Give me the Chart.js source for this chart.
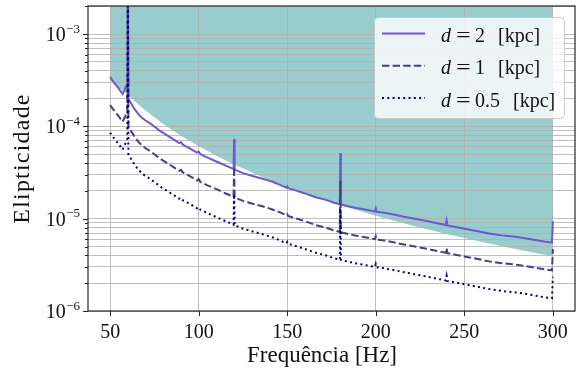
<!DOCTYPE html>
<html><head><meta charset="utf-8">
<script src="https://cdn.jsdelivr.net/npm/chart.js@4.4.1/dist/chart.umd.min.js"></script>
<style>html,body{margin:0;padding:0;background:#fff;overflow:hidden}#wrap{width:580px;height:370px}</style>
</head><body><div id="wrap"><canvas id="c" width="580" height="370"></canvas></div>
<script>
// ---- data ----
const freqHz = [50,51,53,55,57,58,59,59.7,60,60.3,61,62,64,66,68,70,72,75,78,82,86,89,90,91,95,99,100,101,105,110,115,119.7,120,120.3,125,130,135,138,142,146,149.5,150,150.5,156,160,166,172,176,179.7,180,180.3,185,189,194,199.5,200,200.5,205,210,216,222,228,234,239.5,240,240.5,245,250,257,264,271,279,285,290,295,299.5,300];
const ellipD2 = [3.42e-4,3.2e-4,2.85e-4,2.55e-4,2.25e-4,2.45e-4,2.72e-4,2.9e-4,1.2e-2,2.0e-4,1.88e-4,1.76e-4,1.52e-4,1.36e-4,1.24e-4,1.16e-4,1.10e-4,1.0e-4,9.0e-5,8.05e-5,7.2e-5,6.6e-5,6.75e-5,6.35e-5,5.8e-5,5.2e-5,5.35e-5,5.0e-5,4.6e-5,4.17e-5,3.78e-5,3.45e-5,7.3e-5,3.4e-5,3.12e-5,2.92e-5,2.75e-5,2.65e-5,2.5e-5,2.33e-5,2.17e-5,2.24e-5,2.14e-5,1.99e-5,1.88e-5,1.71e-5,1.6e-5,1.5e-5,1.44e-5,5.15e-5,1.43e-5,1.36e-5,1.31e-5,1.26e-5,1.2e-5,1.29e-5,1.19e-5,1.16e-5,1.11e-5,1.05e-5,1.0e-5,9.5e-6,9.0e-6,8.55e-6,9.6e-6,8.45e-6,8.15e-6,7.8e-6,7.35e-6,6.9e-6,6.6e-6,6.36e-6,6.1e-6,5.87e-6,5.65e-6,5.5e-6,9.4e-6];
const ellipD1 = [1.71e-4,1.6e-4,1.425e-4,1.275e-4,1.125e-4,1.225e-4,1.36e-4,1.45e-4,6e-3,1.0e-4,9.4e-5,8.8e-5,7.6e-5,6.8e-5,6.2e-5,5.8e-5,5.5e-5,5.0e-5,4.5e-5,4.03e-5,3.6e-5,3.3e-5,3.38e-5,3.18e-5,2.9e-5,2.6e-5,2.68e-5,2.5e-5,2.3e-5,2.09e-5,1.89e-5,1.73e-5,3.65e-5,1.7e-5,1.56e-5,1.46e-5,1.38e-5,1.33e-5,1.25e-5,1.17e-5,1.09e-5,1.12e-5,1.07e-5,9.95e-6,9.4e-6,8.55e-6,8.0e-6,7.5e-6,7.2e-6,2.58e-5,7.15e-6,6.8e-6,6.55e-6,6.3e-6,6.0e-6,6.45e-6,5.95e-6,5.8e-6,5.55e-6,5.25e-6,5.0e-6,4.75e-6,4.5e-6,4.28e-6,4.8e-6,4.23e-6,4.08e-6,3.9e-6,3.68e-6,3.45e-6,3.3e-6,3.18e-6,3.05e-6,2.94e-6,2.83e-6,2.75e-6,4.7e-6];
const ellipD05 = [8.55e-5,8.0e-5,7.1e-5,6.4e-5,5.6e-5,6.1e-5,6.8e-5,7.25e-5,3e-3,5.0e-5,4.7e-5,4.4e-5,3.8e-5,3.4e-5,3.1e-5,2.9e-5,2.75e-5,2.5e-5,2.25e-5,2.01e-5,1.8e-5,1.65e-5,1.69e-5,1.59e-5,1.45e-5,1.3e-5,1.34e-5,1.25e-5,1.15e-5,1.04e-5,9.45e-6,8.6e-6,1.83e-5,8.5e-6,7.8e-6,7.3e-6,6.9e-6,6.6e-6,6.25e-6,5.8e-6,5.4e-6,5.6e-6,5.35e-6,4.98e-6,4.7e-6,4.28e-6,4.0e-6,3.75e-6,3.6e-6,1.29e-5,3.58e-6,3.4e-6,3.28e-6,3.15e-6,3.0e-6,3.23e-6,2.98e-6,2.9e-6,2.78e-6,2.63e-6,2.5e-6,2.38e-6,2.25e-6,2.14e-6,2.4e-6,2.11e-6,2.04e-6,1.95e-6,1.84e-6,1.73e-6,1.65e-6,1.59e-6,1.53e-6,1.47e-6,1.41e-6,1.38e-6,2.35e-6];
const boundFreqHz = [50,55,60,65,70,75,80,85,90,95,100,110,120,130,140,150,160,170,180,190,200,210,220,230,240,250,260,270,280,290,300];
const boundEllip = [3.45e-4,2.62e-4,2.19e-4,1.79e-4,1.49e-4,1.26e-4,1.066e-4,9.17e-5,7.94e-5,6.94e-5,6.10e-5,4.81e-5,3.87e-5,3.17e-5,2.63e-5,2.21e-5,1.88e-5,1.62e-5,1.40e-5,1.23e-5,1.08e-5,9.54e-6,8.50e-6,7.60e-6,6.83e-6,6.17e-6,5.60e-6,5.09e-6,4.65e-6,4.26e-6,3.91e-6];
const seriesLabels = ['d = 2 [kpc]','d = 1 [kpc]','d = 0.5 [kpc]'];
const xTickValues = [50,100,150,200,250,300];
const yMajorValues = [1e-6,1e-5,1e-4,1e-3];
const yMajorExp = ['\u22126','\u22125','\u22124','\u22123'];
const xTitle = 'Frequência [Hz]';
const yTitle = 'Elipticidade';

const SERIF = '"Liberation Serif", "DejaVu Serif", serif';
const colors = ['rgb(106,90,205)','rgb(72,61,139)','rgb(0,0,128)'];
const dashes = [[],[7.4,3.2],[2,3.3]];
const pts = (xs, ys) => xs.map((x,i)=>({x:x, y:ys[i]}));

const overlay = {
  id:'overlay',
  afterDraw(chart){
    const ctx = chart.ctx, a = chart.chartArea;
    const xs = chart.scales.x, ys = chart.scales.y;
    ctx.save();
    // frame
    ctx.strokeStyle = '#262626'; ctx.lineWidth = 1.2; ctx.setLineDash([]);
    ctx.strokeRect(a.left, a.top, a.right-a.left, a.bottom-a.top);
    // ticks
    ctx.lineWidth = 1;
    ctx.beginPath();
    xTickValues.forEach(v=>{const p=Math.round(xs.getPixelForValue(v))+0.5; ctx.moveTo(p,a.bottom); ctx.lineTo(p,a.bottom+5);});
    ys.ticks.forEach(t=>{
      const p=Math.round(ys.getPixelForValue(t.value))+0.5;
      if (p < a.top-0.5 || p > a.bottom+1) return;
      const major = yMajorValues.some(m=>Math.abs(Math.log10(m)-Math.log10(t.value))<1e-6);
      ctx.moveTo(a.left-(major?5:3),p); ctx.lineTo(a.left,p);
    });
    ctx.stroke();
    // y tick labels
    ctx.fillStyle = '#111';
    yMajorValues.forEach((v,i)=>{
      const p = ys.getPixelForValue(v);
      ctx.font = '13px '+SERIF; ctx.textAlign='right'; ctx.textBaseline='alphabetic';
      ctx.fillText(yMajorExp[i], 80, p-1.5);
      const ew = ctx.measureText(yMajorExp[i]).width;
      ctx.font = '20px '+SERIF;
      ctx.fillText('10', 80-ew-0.5, p+7);
    });
    // axis titles
    ctx.font = '23px '+SERIF; ctx.textAlign='center'; ctx.textBaseline='alphabetic';
    ctx.fillText(xTitle, 322, 362);
    ctx.save();
    ctx.translate(29, (a.top+a.bottom)/2); ctx.rotate(-Math.PI/2);
    try { ctx.letterSpacing = '1.2px'; } catch(e) {}
    ctx.font = '24px '+SERIF;
    ctx.fillText(yTitle, 0, 0);
    ctx.restore();
    // legend
    const lx=374.5, ly=17.5, lw=190, lh=101;
    ctx.beginPath();
    if (ctx.roundRect) ctx.roundRect(lx,ly,lw,lh,4); else ctx.rect(lx,ly,lw,lh);
    ctx.fillStyle='rgba(255,255,255,0.8)'; ctx.fill();
    ctx.strokeStyle='#cccccc'; ctx.lineWidth=1; ctx.stroke();
    chart.data.datasets.slice(0,3).forEach((ds,i)=>{
      const yy = 33.5 + i*32.3;
      ctx.beginPath(); ctx.setLineDash(dashes[i]); ctx.strokeStyle=colors[i]; ctx.lineWidth=2;
      ctx.moveTo(382,yy); ctx.lineTo(425,yy); ctx.stroke(); ctx.setLineDash([]);
      const parts = ds.label.split(' '); // d, =, num, [kpc]
      ctx.fillStyle='#111'; ctx.textAlign='left'; ctx.textBaseline='alphabetic';
      const by = yy+8.5;
      ctx.font = 'italic 20px '+SERIF; ctx.fillText(parts[0], 441, by);
      ctx.font = '20px '+SERIF;
      ctx.save(); ctx.translate(456, by); ctx.scale(1.3,1); ctx.fillText(parts[1], 0, 0); ctx.restore();
      ctx.fillText(parts[2], 475, by);
      const nw = ctx.measureText(parts[2]).width;
      ctx.fillText(parts[3], 475+nw+13, by);
    });
    ctx.restore();
  }
};

const lineDs = (label, ys, i) => ({
  label: label, data: pts(freqHz, ys), borderColor: colors[i], borderWidth: 2,
  borderDash: dashes[i], pointRadius: 0, fill: false, tension: 0, order: 3-i
});

new Chart(document.getElementById('c'), {
  type: 'line',
  data: { datasets: [
    lineDs(seriesLabels[0], ellipD2, 0),
    lineDs(seriesLabels[1], ellipD1, 1),
    lineDs(seriesLabels[2], ellipD05, 2),
    { label: 'region', data: pts(boundFreqHz, boundEllip), borderColor:'rgba(0,0,0,0)', borderWidth:0,
      pointRadius:0, fill:'end', backgroundColor:'rgba(0,128,128,0.4)', tension:0, order:10 }
  ]},
  options: {
    responsive:false, animation:false, devicePixelRatio:1,
    layout:{ padding:{ top:6, right:5, left:0, bottom:0 } },
    plugins:{ legend:{display:false}, tooltip:{enabled:false}, filler:{ drawTime:'beforeDraw' } },
    scales:{
      x:{ type:'linear', min:37.5, max:312.5,
        afterBuildTicks(s){ s.ticks = xTickValues.map(v=>({value:v})); },
        afterFit(s){ s.height = 59; },
        ticks:{ autoSkip:false, maxRotation:0, padding:10, color:'#111', font:{family:SERIF, size:20},
          callback:(v)=>String(v) },
        grid:{ color:'#b0b0b0', lineWidth:0.8, drawTicks:false },
        border:{ display:false }
      },
      y:{ type:'logarithmic', min:1e-6, max:2.02e-3,
        afterBuildTicks(s){ const t=[]; for(let e=-6;e<=-3;e++){ for(let m=1;m<=9;m++){ const v=m*Math.pow(10,e); if(v<=2.02e-3) t.push({value:v}); } } s.ticks=t; },
        afterFit(s){ s.width = 88; },
        ticks:{ display:false, autoSkip:false },
        grid:{ color:'#b0b0b0', lineWidth:0.8, drawTicks:false },
        border:{ display:false }
      }
    }
  },
  plugins:[overlay]
});
</script></body></html>
